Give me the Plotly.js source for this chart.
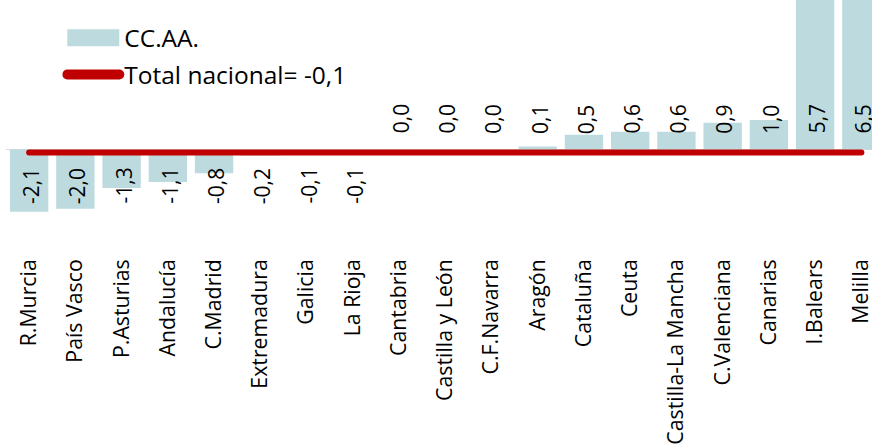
<!DOCTYPE html>
<html><head><meta charset="utf-8">
<script src="https://cdn.plot.ly/plotly-3.0.1.min.js"></script>
<style>
html,body{margin:0;padding:0;background:#fff;overflow:hidden}
.scatterlayer .js-line{stroke-linecap:round}
.legend .legendlines path{stroke-linecap:round;stroke-width:10px !important}
</style>
</head><body><div id="chart" style="width:872px;height:446px"></div>
<script>
const regions = ['R.Murcia','País Vasco','P.Asturias','Andalucía','C.Madrid','Extremadura','Galicia','La Rioja','Cantabria','Castilla y León','C.F.Navarra','Aragón','Cataluña','Ceuta','Castilla-La Mancha','C.Valenciana','Canarias','I.Balears','Melilla'];
const values = [-2.1,-2.0,-1.3,-1.1,-0.8,-0.2,-0.1,-0.1,0.0,0.0,0.0,0.1,0.5,0.6,0.6,0.9,1.0,5.7,6.5];
const totalNacional = -0.1;
const seriesName = 'CC.AA.';
const totalName = 'Total nacional= -0,1';

const fmt = v => v.toFixed(1).replace('.', ',');
const FONT = 'Open Sans, sans-serif';

const barTrace = {
  type: 'bar', x: regions, y: values, name: seriesName, legendgroup: 'a',
  marker: {color: '#bddbdf', line: {width: 0}}, hoverinfo: 'none'
};
const lineTrace = {
  type: 'scatter', mode: 'lines', x: regions, y: regions.map(() => totalNacional),
  name: totalName, legendgroup: 'b',
  line: {color: '#c00000', width: 6}, hoverinfo: 'none'
};

const annotations = regions.map((r, i) => ({
  x: r, y: values[i] >= 0 ? 0.5 : -0.59, xref: 'x', yref: 'y',
  text: fmt(values[i]), showarrow: false, textangle: -90, xshift: 2,
  xanchor: 'center', yanchor: values[i] >= 0 ? 'bottom' : 'top',
  borderpad: 0, font: {family: FONT, size: 21, color: '#000'}
}));

const layout = {
  width: 872, height: 446,
  margin: {l: 5.5, r: 0, t: 0, b: 192, pad: 0},
  paper_bgcolor: '#fff', plot_bgcolor: '#fff',
  bargap: 0.17,
  showlegend: true,
  legend: {
    x: 0.065, y: 0.94, xanchor: 'left', yanchor: 'top',
    traceorder: 'grouped', tracegroupgap: 2, itemwidth: 52,
    font: {family: FONT, size: 24.5, color: '#000'},
    bgcolor: 'rgba(0,0,0,0)', borderwidth: 0
  },
  xaxis: {
    type: 'category', range: [-0.5, 18.23], tickangle: -90,
    tickfont: {family: FONT, size: 21.3, color: '#000'},
    showgrid: false, showline: false, ticks: '', zeroline: false, fixedrange: true
  },
  yaxis: {
    range: [-3.53, 5.05], showticklabels: false, showgrid: false,
    zeroline: true, zerolinecolor: '#d9d9d9', zerolinewidth: 1, ticks: '', fixedrange: true
  },
  annotations: annotations
};

Plotly.newPlot('chart', [barTrace, lineTrace], layout, {staticPlot: true, displayModeBar: false}).then(gd => {
  const traces = gd.querySelectorAll('.legend .traces');
  if (traces.length) {
    const p = traces[0].querySelector('.legendpoints path');
    if (p) p.setAttribute('d', 'M-26,8.5H26V-8.5H-26Z');
  }
});
</script>
</body></html>
